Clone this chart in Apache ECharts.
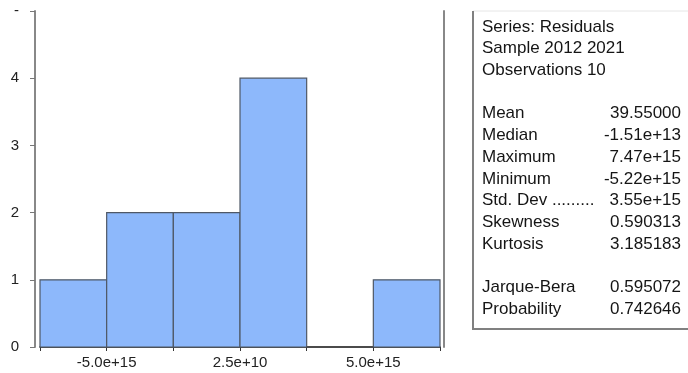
<!DOCTYPE html>
<html>
<head>
<meta charset="utf-8">
<script src="https://cdn.jsdelivr.net/npm/echarts@6/dist/echarts.min.js"></script>
<style>
  html, body { margin: 0; padding: 0; background: #fff; }
  #histogram { width: 688px; height: 373px; }
</style>
</head>
<body>
<div id="histogram"></div>
<script>
// histogram bins of the residuals
var binEdges = [-7.49998e15, -4.99998e15, -2.49998e15, 2.5e10, 2.50002e15, 5.00002e15, 7.50002e15];
var binCounts = [1, 2, 2, 4, 0, 1];

var xTickValues = [-5e15, 0, 5e15];
var xTickLabels = ['-5.0e+15', '2.5e+10', '5.0e+15'];
var yTickLabels = ['0', '1', '2', '3', '4', '-'];

// summary statistics box
var headerLines = ['Series: Residuals', 'Sample 2012 2021', 'Observations 10'];
var statNames = ['Mean', 'Median', 'Maximum', 'Minimum', 'Std. Dev .........', 'Skewness', 'Kurtosis'];
var statValues = ['39.55000', '-1.51e+13', '7.47e+15', '-5.22e+15', '3.55e+15', '0.590313', '3.185183'];
var testNames = ['Jarque-Bera', 'Probability'];
var testValues = ['0.595072', '0.742646'];

var chart = echarts.init(document.getElementById('histogram'));

var binData = [];
for (var i = 0; i < binCounts.length; i++) {
    binData.push([binEdges[i], binEdges[i + 1], binCounts[i]]);
}

// text rows of the box: header, blank, stats, blank, tests
var font = '17px "Liberation Sans", Arial, sans-serif';
var rowTop = 27, rowStep = 21.7, nameX = 482, valueX = 681;
var boxTexts = [];
function addRow(idx, name, value) {
    var y = rowTop + idx * rowStep;
    boxTexts.push({ type: 'text', x: nameX, y: y, silent: true,
        style: { text: name, font: font, fill: '#151515', align: 'left', verticalAlign: 'middle' } });
    if (value) {
        boxTexts.push({ type: 'text', x: valueX, y: y, silent: true,
            style: { text: value, font: font, fill: '#151515', align: 'right', verticalAlign: 'middle' } });
    }
}
headerLines.forEach(function (t, k) { addRow(k, t); });
statNames.forEach(function (t, k) { addRow(headerLines.length + 1 + k, t, statValues[k]); });
testNames.forEach(function (t, k) { addRow(headerLines.length + statNames.length + 2 + k, t, testValues[k]); });

// box frame: faint top, darker left and bottom
var boxLines = [
    { shape: { x1: 473, y1: 11, x2: 688, y2: 11 }, style: { stroke: '#e6e6e6', lineWidth: 1 } },
    { shape: { x1: 473, y1: 11, x2: 473, y2: 329 }, style: { stroke: '#808080', lineWidth: 2 } },
    { shape: { x1: 472, y1: 329, x2: 688, y2: 329 }, style: { stroke: '#808080', lineWidth: 2 } }
].map(function (l) { return { type: 'line', silent: true, shape: l.shape, style: l.style }; });

chart.setOption({
    animation: false,
    grid: { left: 40, right: 248, top: 11, bottom: 26 },
    xAxis: {
        type: 'value',
        min: -7.5e15,
        max: 7.5e15,
        interval: 2.5e15,
        splitLine: { show: false },
        axisLine: { lineStyle: { color: '#111', width: 1.5 } },
        axisTick: { length: 4, lineStyle: { color: '#333' } },
        axisLabel: {
            margin: 8,
            color: '#222',
            fontSize: 15,
            fontFamily: '"Liberation Sans", Arial, sans-serif',
            formatter: function (v) {
                for (var k = 0; k < xTickValues.length; k++) {
                    if (Math.abs(v - xTickValues[k]) < 1e12) return xTickLabels[k];
                }
                return '';
            }
        }
    },
    yAxis: [{
        type: 'value',
        min: 0,
        max: 5,
        interval: 1,
        offset: 5,
        splitLine: { show: false },
        axisLine: { show: true, onZero: false, lineStyle: { color: '#888', width: 2 } },
        axisTick: { show: true, length: 5, lineStyle: { color: '#777' } },
        axisLabel: {
            margin: 16,
            color: '#222',
            fontSize: 15,
            fontFamily: '"Liberation Sans", Arial, sans-serif',
            formatter: function (v) { return yTickLabels[Math.round(v)]; }
        }
    }, {
        type: 'value',
        position: 'right',
        min: 0,
        max: 5,
        offset: 4,
        splitLine: { show: false },
        axisLine: { show: true, onZero: false, lineStyle: { color: '#888', width: 2 } },
        axisTick: { show: false },
        axisLabel: { show: false }
    }],
    series: [{
        type: 'custom',
        data: binData,
        encode: { x: [0, 1], y: 2 },
        renderItem: function (params, api) {
            if (!api.value(2)) return null;
            var p0 = api.coord([api.value(0), 0]);
            var p1 = api.coord([api.value(1), api.value(2)]);
            return {
                type: 'rect',
                shape: { x: p0[0], y: p1[1], width: p1[0] - p0[0], height: p0[1] - p1[1] },
                style: { fill: '#8db8fb', stroke: '#4f5866', lineWidth: 1.2 }
            };
        }
    }],
    graphic: boxLines.concat(boxTexts)
});
</script>
</body>
</html>
